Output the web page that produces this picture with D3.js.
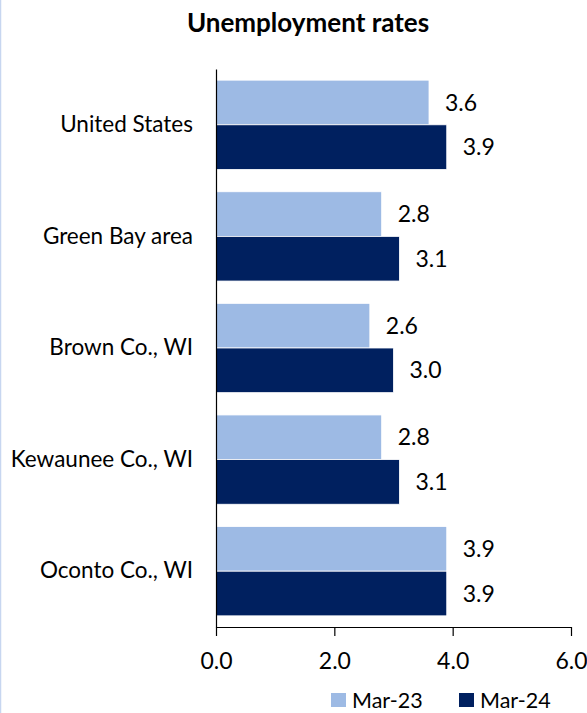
<!DOCTYPE html>
<html><head><meta charset="utf-8">
<script src="https://cdn.jsdelivr.net/npm/d3@7"></script>
<style>
html,body{margin:0;padding:0;background:#fff;}
svg{display:block;font-family:Lato,"Open Sans",sans-serif;}
</style></head>
<body>
<svg id="chart" width="587" height="713"></svg>
<script>
const categories = ["United States", "Green Bay area", "Brown Co., WI", "Kewaunee Co., WI", "Oconto Co., WI"];
const seriesNames = ["Mar-23", "Mar-24"];
const mar23 = [3.6, 2.8, 2.6, 2.8, 3.9];
const mar24 = [3.9, 3.1, 3.0, 3.1, 3.9];
const xTicks = [0, 2, 4, 6];
const colors = ["#9DBAE4", "#00205F"];

const svg = d3.select("#chart");
const W = 587, H = 713;
const pLeft = 216, pRight = 571, pTop = 69, pBottom = 627;

svg.append("line").attr("x1",0.5).attr("x2",0.5).attr("y1",0).attr("y2",H)
  .attr("stroke","#C7D6F0").attr("stroke-width",1.5);

svg.append("text").attr("x",308).attr("y",32).attr("text-anchor","middle")
  .attr("font-weight","bold").attr("font-size",26).attr("fill","#000")
  .text("Unemployment rates");

const x = d3.scaleLinear().domain([0,6]).range([pLeft,pRight]);
const y = d3.scaleBand().domain(categories).range([pTop,pBottom]).paddingInner(0.2).paddingOuter(0.1);
const ys = d3.scaleBand().domain(seriesNames).range([0,y.bandwidth()]);

const data = categories.map((c,i)=>({cat:c, vals:[mar23[i], mar24[i]]}));

const g = svg.append("g");
const groups = g.selectAll("g.cat").data(data).join("g")
  .attr("transform", d=>`translate(0,${y(d.cat)})`);
groups.selectAll("rect").data(d=>d.vals.map((v,j)=>({v, s:seriesNames[j], j})))
  .join("rect")
  .attr("x", x(0)).attr("y", d=>ys(d.s))
  .attr("width", d=>x(d.v)-x(0)).attr("height", ys.bandwidth())
  .attr("fill", d=>colors[d.j]).attr("stroke","#fff").attr("stroke-width",0.8);
groups.selectAll("text").data(d=>d.vals.map((v,j)=>({v, s:seriesNames[j], j})))
  .join("text")
  .attr("x", d=>x(d.v)+16).attr("y", d=>ys(d.s)+ys.bandwidth()/2)
  .attr("dy","0.35em").attr("font-size",23).attr("fill","#000")
  .text(d=>d.v.toFixed(1));

// x axis
const xAxis = d3.axisBottom(x).tickValues(xTicks).tickFormat(d3.format(".1f")).tickSize(9).tickSizeOuter(0);
const xg = svg.append("g").attr("transform",`translate(0,${pBottom})`).call(xAxis);
xg.select(".domain").attr("stroke","#000").attr("stroke-width",1.2);
xg.selectAll(".tick line").attr("stroke","#000").attr("stroke-width",1.2);
xg.selectAll(".tick text").attr("font-size",23).attr("fill","#000").attr("font-family","Lato,sans-serif").attr("y",26).attr("dy","0.71em");

// y axis
const yAxis = d3.axisLeft(y).tickSize(0).tickPadding(23);
const yg = svg.append("g").attr("transform",`translate(${pLeft},0)`).call(yAxis);
yg.select(".domain").attr("stroke","#000").attr("stroke-width",1.2);
yg.selectAll(".tick text").attr("font-size",22.5).attr("fill","#000").attr("font-family","Lato,sans-serif");

// legend
const legX = [331, 459];
const leg = svg.append("g");
seriesNames.forEach((s,i)=>{
  leg.append("rect").attr("x",legX[i]).attr("y",693).attr("width",15).attr("height",14).attr("fill",colors[i]);
  leg.append("text").attr("x",legX[i]+21).attr("y",700).attr("dy","0.35em").attr("font-size",21.5).attr("fill","#000").text(s);
});
</script>
</body></html>
